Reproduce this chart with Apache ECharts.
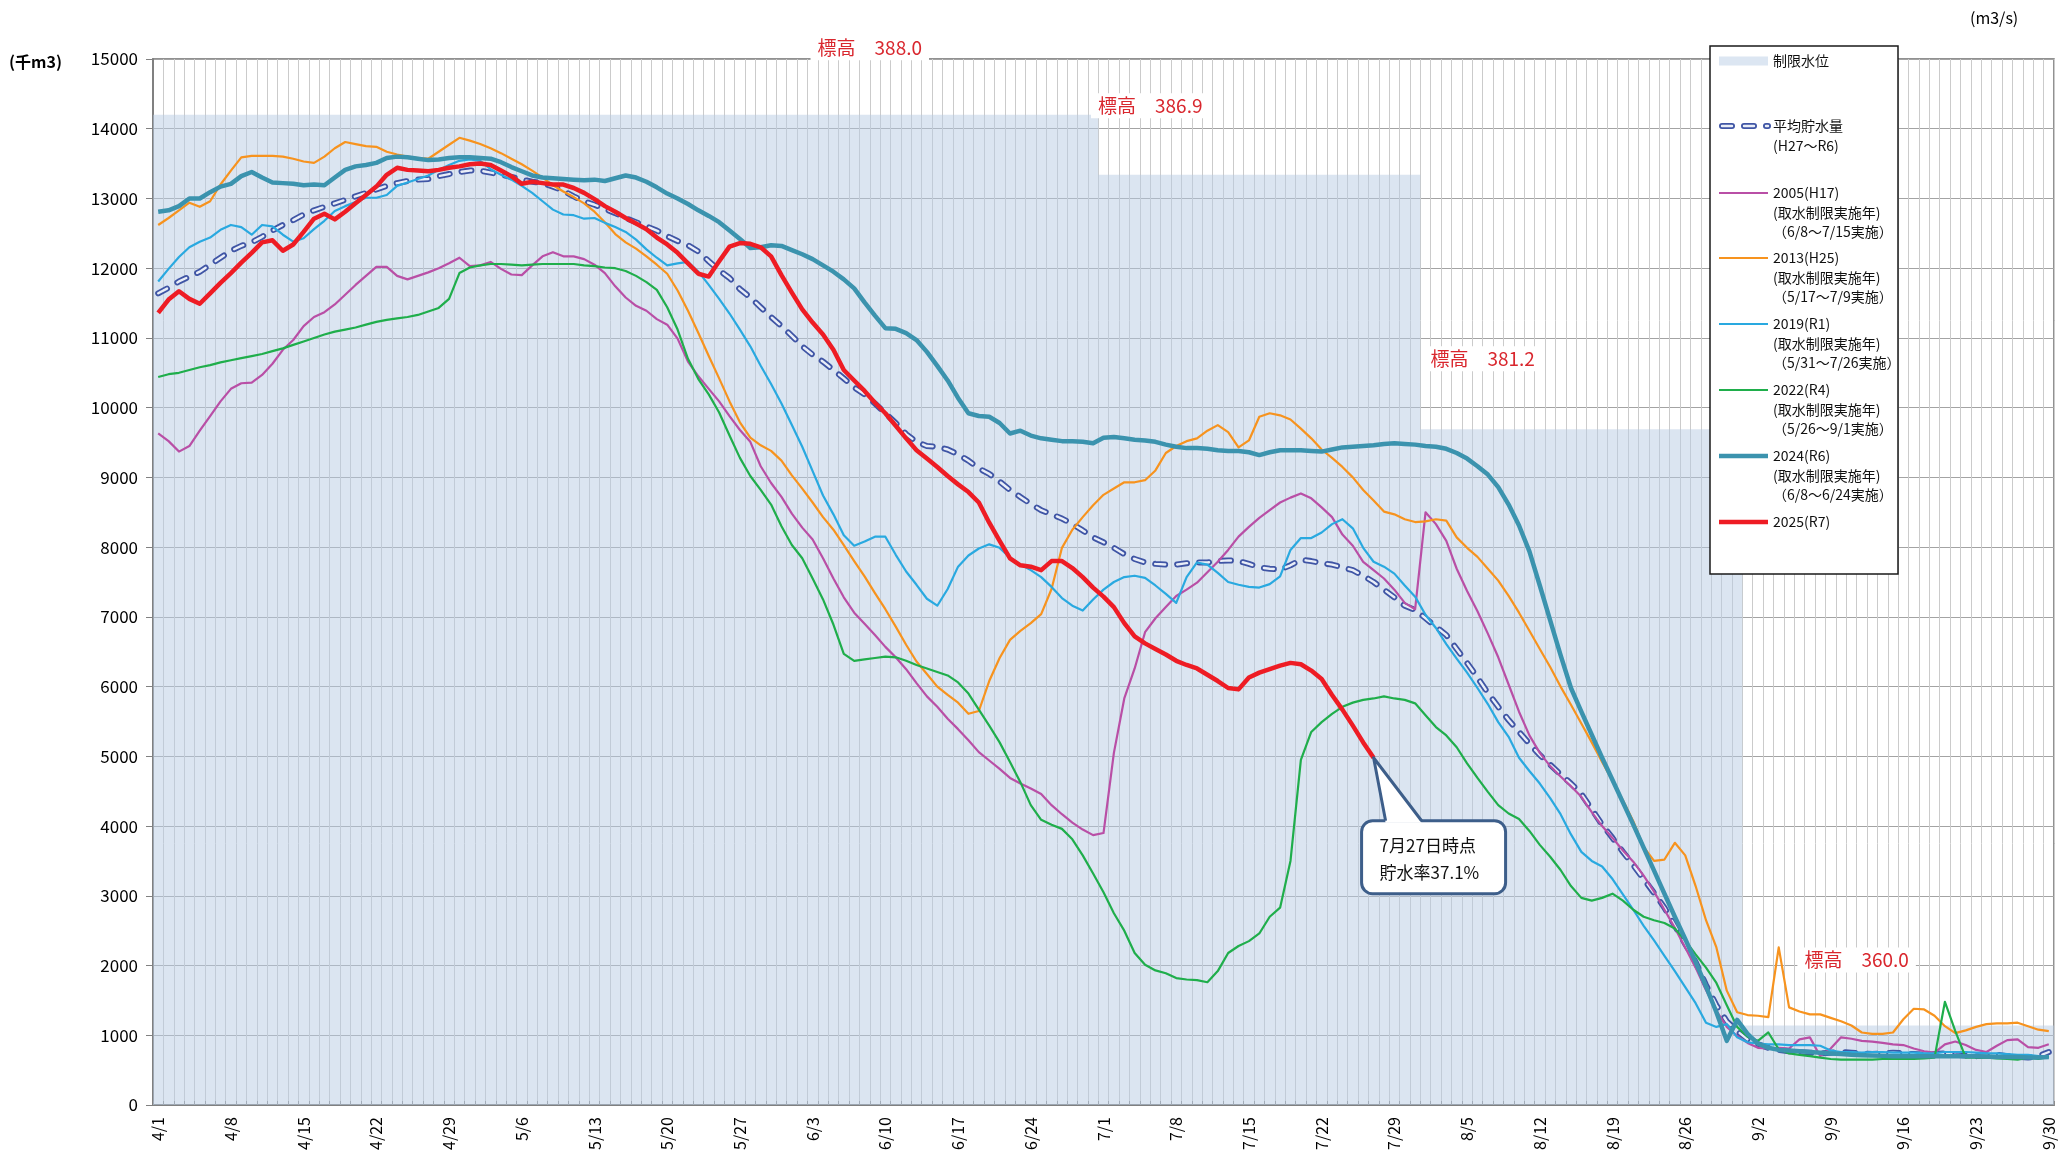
<!DOCTYPE html>
<html>
<head>
<meta charset="utf-8">
<title>貯水量の推移</title>
<script src="https://cdn.jsdelivr.net/npm/echarts@6/dist/echarts.min.js"></script>
<style>
html, body { margin: 0; padding: 0; background: #fff; }
#chart { width: 2067px; height: 1160px; }
</style>
</head>
<body>
<div id="chart"></div>
<script>
// ---- data ----
const monthDays = [[4, 30], [5, 31], [6, 30], [7, 31], [8, 31], [9, 30]];
const days = [];
monthDays.forEach(([m, n]) => { for (let d = 1; d <= n; d++) days.push(m + "/" + d); });

// 制限水位 (start day index of each level, and the level)
const limitFrom = [0, 91, 122, 153];
const limitLevel = [14200, 13340, 9690, 1140];
const limitLabels = ["標高　388.0", "標高　386.9", "標高　381.2", "標高　360.0"];

const avgVals = [
  11640, 11720, 11810, 11880, 11950, 12050, 12150, 12250, 12320, 12370, 12450, 12540, 12620, 12690, 12770, 12830,
  12880, 12930, 12980, 13030, 13080, 13130, 13180, 13220, 13250, 13270, 13280, 13320, 13350, 13380, 13400, 13400,
  13370, 13340, 13310, 13270, 13240, 13220, 13170, 13110, 13030, 12960, 12910, 12850, 12790, 12720, 12660, 12600,
  12540, 12460, 12390, 12330, 12240, 12100, 11970, 11860, 11700, 11580, 11440, 11300, 11170, 11030,
  10880, 10760, 10660, 10540, 10420, 10290, 10190, 10060, 9920, 9780, 9620, 9510, 9450, 9440, 9400, 9330,
  9240, 9130, 9050, 8940, 8820, 8720, 8620, 8530, 8470, 8410, 8330, 8240, 8140, 8070,
  7990, 7900, 7830, 7780, 7760, 7750, 7750, 7770, 7780, 7780, 7800, 7810, 7800, 7760, 7710, 7690,
  7680, 7740, 7820, 7800, 7770, 7750, 7710, 7670, 7590, 7500, 7390, 7280, 7160, 7100,
  6980, 6860, 6740, 6540, 6340, 6130, 5910, 5710, 5520, 5350, 5180, 5020, 4880, 4740, 4610, 4460,
  4240, 4020, 3830, 3630, 3440, 3240, 3040, 2830, 2570, 2310, 2050, 1720, 1430, 1200, 1060,
  940, 870, 820, 790, 770, 760, 750, 740, 750, 760, 750, 740, 730, 740, 750, 740,
  730, 720, 730, 740, 720, 710, 700, 710, 720, 700, 690, 680, 700, 760
];

const y2005 = [
  9630, 9520, 9370, 9450, 9670, 9880, 10090, 10270, 10350, 10360, 10470, 10630, 10830, 10970, 11170, 11300,
  11370, 11480, 11620, 11760, 11890, 12020, 12020, 11890, 11840, 11890, 11940, 12000, 12070, 12150, 12030, 12040,
  12090, 11990, 11910, 11900, 12040, 12170, 12230, 12170, 12170, 12130, 12050, 11930, 11740, 11580, 11460, 11390,
  11270, 11190, 10990, 10660, 10450, 10270, 10090, 9880, 9680, 9510, 9160, 8920, 8720, 8480,
  8280, 8110, 7840, 7550, 7280, 7060, 6900, 6740, 6570, 6420, 6250, 6050, 5860, 5710, 5540, 5390,
  5230, 5060, 4940, 4820, 4690, 4610, 4540, 4460, 4300, 4170, 4050, 3950, 3870, 3900,
  5050, 5830, 6260, 6780, 6980, 7140, 7300, 7390, 7490, 7640, 7790, 7960, 8150, 8290, 8420, 8530,
  8640, 8710, 8770, 8700, 8570, 8430, 8180, 8020, 7790, 7670, 7550, 7390, 7200, 7110,
  8500, 8330, 8090, 7690, 7370, 7080, 6760, 6420, 6030, 5640, 5300, 5050, 4860, 4710, 4570, 4420,
  4200, 4000, 3830, 3650, 3490, 3290, 3060, 2800, 2540, 2260, 1970, 1650, 1350, 1120, 990,
  890, 820, 810, 820, 810, 940, 970, 700, 810, 970, 950, 920, 910, 890, 870, 860,
  810, 770, 750, 870, 910, 860, 790, 760, 850, 930, 940, 830, 820, 870
];

const y2013 = [
  12620, 12720, 12830, 12940, 12880, 12960, 13200, 13400, 13590, 13610, 13610, 13610, 13600, 13570, 13530, 13510,
  13600, 13720, 13810, 13780, 13750, 13740, 13670, 13630, 13600, 13580, 13570, 13670, 13770, 13870, 13830, 13780,
  13720, 13650, 13570, 13490, 13400, 13300, 13190, 13100, 13020, 12930, 12810, 12660, 12490, 12370, 12280, 12170,
  12050, 11920, 11680, 11390, 11070, 10740, 10420, 10090, 9790, 9570, 9460, 9380, 9240, 9030,
  8840, 8640, 8430, 8250, 8030, 7800, 7580, 7340, 7110, 6860, 6600, 6360, 6180, 6000, 5880, 5770,
  5610, 5650, 6080, 6410, 6670, 6800, 6910, 7040, 7400, 7990, 8250, 8430, 8600, 8750,
  8840, 8930, 8930, 8960, 9100, 9350, 9450, 9520, 9560, 9670, 9750, 9650, 9430, 9530, 9870, 9920,
  9890, 9830, 9700, 9560, 9400, 9280, 9150, 9000, 8820, 8670, 8510, 8470, 8400, 8360,
  8370, 8400, 8380, 8140, 7990, 7860, 7690, 7520, 7300, 7060, 6800, 6540, 6280, 6000, 5740, 5470,
  5200, 4920, 4650, 4370, 4070, 3700, 3500, 3520, 3760, 3580, 3140, 2650, 2260, 1640, 1330,
  1290, 1280, 1260, 2260, 1400, 1340, 1300, 1300, 1250, 1200, 1140, 1040, 1020, 1020, 1040, 1230,
  1380, 1370, 1280, 1130, 1030, 1070, 1120, 1160, 1170, 1170, 1180, 1130, 1080, 1060
];

const y2019 = [
  11810, 11990, 12160, 12300, 12380, 12440, 12550, 12620, 12590, 12480, 12620, 12600, 12480, 12380, 12430, 12560,
  12680, 12820, 12890, 12950, 13010, 13010, 13050, 13180, 13230, 13280, 13330, 13410, 13480, 13540, 13560, 13540,
  13420, 13340, 13270, 13180, 13080, 12960, 12840, 12770, 12760, 12710, 12720, 12650, 12590, 12520, 12410, 12270,
  12150, 12040, 12070, 12090, 11950, 11760, 11560, 11350, 11120, 10880, 10600, 10340, 10060, 9750,
  9440, 9090, 8740, 8470, 8170, 8020, 8080, 8150, 8150, 7890, 7650, 7460, 7260, 7160, 7400, 7720,
  7880, 7980, 8040, 7990, 7850, 7750, 7670, 7570, 7430, 7270, 7160, 7090, 7250, 7390,
  7500, 7570, 7590, 7560, 7450, 7330, 7200, 7570, 7780, 7750, 7630, 7500, 7460, 7430, 7420, 7470,
  7580, 7960, 8130, 8130, 8210, 8330, 8400, 8270, 7990, 7790, 7720, 7620, 7450, 7290,
  7030, 6840, 6610, 6400, 6200, 5980, 5750, 5490, 5280, 4980, 4790, 4610, 4400, 4170, 3880, 3630,
  3500, 3420, 3240, 3020, 2800, 2570, 2360, 2140, 1920, 1690, 1460, 1180, 1120, 1160, 970,
  900, 880, 870, 870, 860, 860, 860, 850, 780, 760, 760, 750, 760, 760, 750, 750,
  750, 740, 740, 760, 760, 760, 750, 740, 740, 730, 720, 720, 700, 700
];

const y2022 = [
  10440, 10480, 10500, 10540, 10580, 10610, 10650, 10680, 10710, 10740, 10770, 10810, 10850, 10900, 10950, 11000,
  11050, 11090, 11120, 11150, 11190, 11230, 11260, 11280, 11300, 11330, 11380, 11430, 11560, 11930, 12010, 12040,
  12060, 12060, 12050, 12040, 12050, 12060, 12060, 12060, 12060, 12040, 12030, 12010, 12000, 11960, 11890, 11800,
  11690, 11440, 11120, 10700, 10410, 10190, 9930, 9600, 9280, 9020, 8820, 8610, 8300, 8030,
  7840, 7550, 7250, 6890, 6470, 6370, 6390, 6410, 6430, 6420, 6370, 6310, 6260, 6210, 6160, 6060,
  5900, 5670, 5440, 5200, 4920, 4630, 4300, 4090, 4020, 3960, 3810, 3580, 3320, 3050,
  2750, 2500, 2180, 2010, 1930, 1890, 1820, 1800, 1790, 1760, 1920, 2180, 2280, 2350, 2460, 2700,
  2830, 3500, 4950, 5350, 5490, 5610, 5710, 5770, 5810, 5830, 5860, 5830, 5810, 5760,
  5590, 5420, 5300, 5130, 4900, 4690, 4490, 4300, 4180, 4100, 3930, 3730, 3560, 3370, 3140, 2970,
  2930, 2970, 3030, 2930, 2800, 2700, 2650, 2610, 2530, 2360, 2160, 1970, 1750, 1430, 1120,
  980, 920, 1040, 800, 740, 720, 700, 680, 660, 650, 650, 650, 650, 660, 660, 660,
  660, 670, 680, 1480, 1060, 680, 680, 680, 670, 660, 650, 680, 660, 690
];

const y2024 = [
  12810, 12830, 12890, 13000, 13000, 13090, 13170, 13210, 13320, 13380, 13300, 13230, 13220, 13210, 13190, 13200,
  13190, 13300, 13410, 13460, 13480, 13510, 13580, 13600, 13590, 13570, 13550, 13560, 13580, 13590, 13590, 13580,
  13570, 13520, 13450, 13390, 13330, 13300, 13290, 13280, 13270, 13260, 13270, 13250, 13290, 13330, 13300, 13240,
  13160, 13070, 13000, 12920, 12830, 12750, 12660, 12540, 12420, 12290, 12300, 12330, 12320, 12260,
  12200, 12130, 12040, 11950, 11840, 11710, 11510, 11320, 11140, 11130, 11070, 10970, 10800, 10600, 10390, 10140,
  9920, 9880, 9870, 9780, 9630, 9670, 9600, 9560, 9540, 9520, 9520, 9510, 9490, 9570,
  9580, 9560, 9540, 9530, 9510, 9470, 9440, 9420, 9420, 9410, 9390, 9380, 9380, 9360, 9320, 9360,
  9390, 9390, 9390, 9380, 9370, 9400, 9430, 9440, 9450, 9460, 9480, 9490, 9480, 9470,
  9450, 9440, 9410, 9350, 9270, 9160, 9040, 8860, 8610, 8310, 7940, 7450, 6950, 6450, 5980, 5640,
  5310, 4980, 4660, 4340, 4020, 3690, 3360, 3030, 2700, 2380, 2050, 1700, 1330, 920, 1220,
  1020, 880, 820, 790, 780, 770, 760, 750, 740, 730, 720, 715, 710, 705, 700, 700,
  700, 700, 700, 700, 700, 700, 700, 695, 690, 690, 690, 680, 680, 690
];

const y2025 = [
  11360, 11550, 11670, 11560, 11490, 11640, 11790, 11930, 12080, 12220, 12370, 12400, 12250, 12340, 12520, 12710,
  12780, 12700, 12810, 12930, 13050, 13170, 13340, 13440, 13410, 13400, 13390, 13410, 13440, 13460, 13490, 13500,
  13480, 13400, 13320, 13210, 13240, 13220, 13200, 13200, 13150, 13080, 12990, 12890, 12810, 12720, 12640, 12560,
  12440, 12340, 12220, 12070, 11920, 11880, 12100, 12310, 12360, 12350, 12300, 12170, 11900, 11650,
  11410, 11220, 11050, 10830, 10540, 10390, 10240, 10070, 9920, 9740, 9560, 9390, 9270, 9150, 9020, 8900,
  8790, 8640, 8350, 8090, 7840, 7740, 7720, 7670, 7800, 7800, 7700, 7570, 7420, 7290,
  7140, 6910, 6720, 6620, 6540, 6460, 6370, 6310, 6260, 6170, 6080, 5980, 5960, 6130, 6200, 6250,
  6300, 6340, 6320, 6230, 6110, 5880, 5670, 5440, 5200, 4980
];

const calloutLines = ["7月27日時点", "貯水率37.1%"];

// ---- build ----
const FONT = '"Noto Sans CJK JP", "Noto Sans", sans-serif';
const C = {
  limit: "rgba(184,204,228,0.5)", limitSwatch: "#dce6f2",
  avg: "#3f55a5", avgInner: "#e9eef8",
  y2005: "#b94fa6", y2013: "#f7931e", y2019: "#29a9e0",
  y2022: "#1fae4b", y2024: "#3b93ae", y2025: "#ee1c24",
  red: "#d9272e", callout: "#3d5e8a"
};

const bounds = [];
for (let i = 0; i <= days.length; i++) bounds.push(String(i));
const limitDaily = bounds.map((_, i) => {
  let k = 0;
  while (k + 1 < limitFrom.length && i >= limitFrom[k + 1]) k++;
  return limitLevel[k];
});

function lineSeries(name, data, color, width) {
  return {
    name, type: "line", data, symbol: "none", silent: true,
    lineStyle: { color, width, join: "round" }
  };
}

const chart = echarts.init(document.getElementById("chart"));

chart.setOption({
  animation: false,
  textStyle: { fontFamily: FONT },
  grid: {
    left: 153, right: 13, top: 59, bottom: 55, outerBoundsMode: "none",
    show: true, backgroundColor: "#fff", borderColor: "#6e6e6e", borderWidth: 1.5
  },
  xAxis: [
    {
      type: "category", data: days, boundaryGap: true,
      axisLine: { lineStyle: { color: "#808080", width: 2 } },
      axisTick: { interval: 6, length: 5, lineStyle: { color: "#808080", width: 1.5 } },
      axisLabel: { interval: 6, rotate: 90, fontSize: 16, color: "#000", margin: 12 },
      splitLine: { show: false }
    },
    {
      type: "category", data: bounds, boundaryGap: false, position: "bottom",
      axisLine: { show: false }, axisLabel: { show: false },
      axisTick: { inside: true, interval: 0, length: 4, lineStyle: { color: "#8c8c8c" } },
      splitLine: { show: true, interval: 0, lineStyle: { color: "#cbcbcb", width: 1 } }
    }
  ],
  yAxis: {
    type: "value", min: 0, max: 15000, interval: 1000,
    axisLine: { show: true, lineStyle: { color: "#808080", width: 2 } },
    axisTick: { show: true, length: 7, lineStyle: { color: "#808080" } },
    axisLabel: { fontSize: 17, color: "#000", margin: 15, formatter: v => String(v) },
    splitLine: { lineStyle: { color: "#a3a3a3", width: 1.2 } }
  },
  series: [
    {
      name: "制限水位", type: "line", xAxisIndex: 1, data: limitDaily, step: "end",
      symbol: "none", silent: true, lineStyle: { width: 0, opacity: 0 },
      areaStyle: { color: C.limit, opacity: 1 }
    },
    {
      name: "平均貯水量", type: "line", data: avgVals, symbol: "none", silent: true,
      lineStyle: { color: C.avg, width: 6, type: [10, 12], cap: "round", join: "round" }
    },
    {
      name: "平均貯水量_inner", type: "line", data: avgVals, symbol: "none", silent: true,
      lineStyle: { color: C.avgInner, width: 2.4, type: [10, 12], cap: "round", join: "round" }
    },
    lineSeries("2005(H17)", y2005, C.y2005, 2.2),
    lineSeries("2013(H25)", y2013, C.y2013, 2.2),
    lineSeries("2019(R1)", y2019, C.y2019, 2.2),
    lineSeries("2022(R4)", y2022, C.y2022, 2.2),
    lineSeries("2024(R6)", y2024, C.y2024, 4.5),
    lineSeries("2025(R7)", y2025, C.y2025, 4.5)
  ]
});

// ---- annotations ----
const gfx = [];

// elevation labels, anchored in data space on the boundary axis
const labelAnchor = [[69.3, 15160], [95.5, 14330], [127.5, 10700], [164, 2080]];
limitLabels.forEach((t, i) => {
  const p = chart.convertToPixel({ xAxisIndex: 1, yAxisIndex: 0 }, labelAnchor[i]);
  gfx.push({
    type: "text", z: 50, x: p[0], y: p[1],
    style: {
      text: t, fill: C.red, font: "19px " + FONT, align: "center", verticalAlign: "middle",
      backgroundColor: "#fff", padding: [3, 7]
    }
  });
});

// callout pointing at the last 2025 value
const lastIdx = y2025.length - 1;
const tip = chart.convertToPixel({ xAxisIndex: 0, yAxisIndex: 0 }, [days[lastIdx], y2025[lastIdx]]);
const bx = tip[0] - 12, by = tip[1] + 63, bw = 144, bh = 73;
const baseL = tip[0] + 12, baseR = tip[0] + 48;
gfx.push({
  type: "rect", z: 60, shape: { x: bx, y: by, width: bw, height: bh, r: 11 },
  style: { fill: "#fff", stroke: C.callout, lineWidth: 3 }
});
gfx.push({
  type: "polygon", z: 61, shape: { points: [[baseL, by + 2], [tip[0], tip[1]], [baseR, by + 2]] },
  style: { fill: "#fff" }
});
gfx.push({
  type: "polyline", z: 62, shape: { points: [[baseL, by], [tip[0], tip[1]], [baseR, by]] },
  style: { stroke: C.callout, lineWidth: 3, fill: null, lineJoin: "round" }
});
calloutLines.forEach((t, i) => {
  gfx.push({
    type: "text", z: 63, x: bx + 18, y: by + 25 + i * 27,
    style: { text: t, fill: "#111", font: "17px " + FONT, align: "left", verticalAlign: "middle" }
  });
});

// axis captions
gfx.push({
  type: "text", z: 50, x: 9, y: 62,
  style: { text: "(千m3)", fill: "#000", font: "bold 16px " + FONT, verticalAlign: "middle" }
});
gfx.push({
  type: "text", z: 50, x: 1970, y: 18,
  style: { text: "(m3/s)", fill: "#000", font: "16px " + FONT, verticalAlign: "middle" }
});

// legend
const legendItems = [
  { kind: "area", text: "制限水位" },
  { kind: "avg", text: "平均貯水量\n(H27～R6)" },
  { color: C.y2005, width: 2.2, text: "2005(H17)\n(取水制限実施年)\n（6/8～7/15実施）" },
  { color: C.y2013, width: 2.2, text: "2013(H25)\n(取水制限実施年)\n（5/17～7/9実施）" },
  { color: C.y2019, width: 2.2, text: "2019(R1)\n(取水制限実施年)\n（5/31～7/26実施）" },
  { color: C.y2022, width: 2.2, text: "2022(R4)\n(取水制限実施年)\n（5/26～9/1実施）" },
  { color: C.y2024, width: 4.5, text: "2024(R6)\n(取水制限実施年)\n（6/8～6/24実施）" },
  { color: C.y2025, width: 4.5, text: "2025(R7)" }
];
const legendRows = [61, 126, 193, 258, 324, 390, 456, 522];
const lg = { x: 1710, y: 46, w: 188, h: 528, sx1: 1719, sx2: 1768, tx: 1773, lh: 19.5 };
gfx.push({
  type: "rect", z: 70, shape: { x: lg.x, y: lg.y, width: lg.w, height: lg.h },
  style: { fill: "#fff", stroke: "#1a1a1a", lineWidth: 1.5 }
});
legendItems.forEach((it, i) => {
  const y = legendRows[i];
  if (it.kind === "area") {
    gfx.push({ type: "rect", z: 71, shape: { x: lg.sx1, y: y - 4.5, width: lg.sx2 - lg.sx1, height: 9 },
      style: { fill: C.limitSwatch } });
  } else if (it.kind === "avg") {
    const sh = { x1: lg.sx1 + 3, y1: y, x2: lg.sx2, y2: y };
    gfx.push({ type: "line", z: 71, shape: sh,
      style: { stroke: C.avg, lineWidth: 6, lineDash: [10, 12], lineCap: "round" } });
    gfx.push({ type: "line", z: 72, shape: sh,
      style: { stroke: C.avgInner, lineWidth: 2.4, lineDash: [10, 12], lineCap: "round" } });
  } else {
    gfx.push({ type: "line", z: 71, shape: { x1: lg.sx1, y1: y, x2: lg.sx2, y2: y },
      style: { stroke: it.color, lineWidth: it.width } });
  }
  gfx.push({
    type: "text", z: 72, x: lg.tx, y: y - lg.lh / 2,
    style: { text: it.text, fill: "#111", font: "14px " + FONT, lineHeight: lg.lh,
      align: "left", verticalAlign: "top" }
  });
});

chart.setOption({ graphic: gfx });
</script>
</body>
</html>
